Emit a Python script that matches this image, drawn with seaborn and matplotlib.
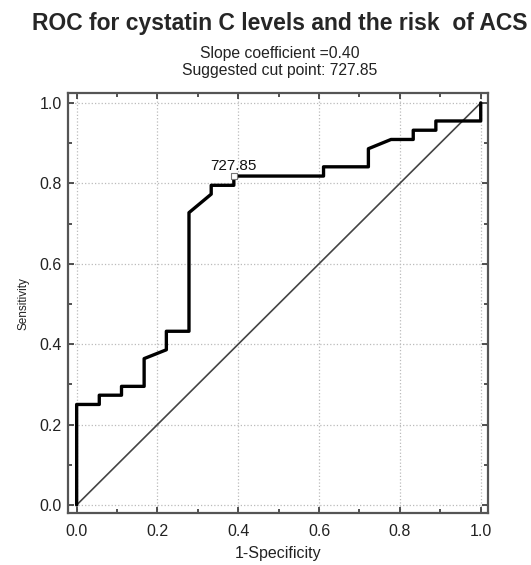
import matplotlib
matplotlib.use('Agg')
import matplotlib.pyplot as plt
import pandas as pd
import seaborn as sns
from matplotlib.ticker import MultipleLocator

# ROC curve points
fpr = [0.0, 0.0, 0.056, 0.056, 0.111, 0.111, 0.167, 0.167, 0.222, 0.222,
       0.278, 0.278, 0.333, 0.333, 0.389, 0.389, 0.611, 0.611, 0.722, 0.722,
       0.778, 0.833, 0.833, 0.889, 0.889, 1.0, 1.0]
tpr = [0.0, 0.25, 0.25, 0.273, 0.273, 0.295, 0.295, 0.364, 0.386, 0.432,
       0.432, 0.727, 0.773, 0.795, 0.795, 0.818, 0.818, 0.841, 0.841, 0.886,
       0.909, 0.909, 0.932, 0.932, 0.955, 0.955, 1.0]
ref_line = [0.0, 1.0]
cut_fpr = 0.389
cut_tpr = 0.818
cut_label = '727.85'
tick_vals = [0.0, 0.2, 0.4, 0.6, 0.8, 1.0]

df = pd.DataFrame({'fpr': fpr, 'tpr': tpr})

sns.set_style('ticks')
plt.rcParams['font.family'] = ['Liberation Sans', 'DejaVu Sans']

fig = plt.figure(figsize=(5.31, 5.65), dpi=100)
ax = fig.add_axes([0.128, 0.092, 0.791, 0.743])

# chance line
sns.lineplot(x=ref_line, y=ref_line, color='#444444', linewidth=1.2, ax=ax)
# ROC curve
sns.lineplot(data=df, x='fpr', y='tpr', sort=False, estimator=None,
             color='black', linewidth=2.4, ax=ax)
# cut point
sns.scatterplot(x=[cut_fpr], y=[cut_tpr], marker='s', s=14,
                facecolor='white', edgecolor='#777777', linewidth=0.8,
                zorder=5, ax=ax)
ax.text(cut_fpr - 0.002, cut_tpr + 0.008, cut_label, ha='center',
        va='bottom', fontsize=11, color='#111111')

ax.set_xlim(-0.0215, 1.018)
ax.set_ylim(-0.02, 1.024)
ax.set_xticks(tick_vals)
ax.set_yticks(tick_vals)
ax.set_xticklabels([f'{v:.1f}' for v in tick_vals])
ax.set_yticklabels([f'{v:.1f}' for v in tick_vals])
ax.xaxis.set_minor_locator(MultipleLocator(0.1))
ax.yaxis.set_minor_locator(MultipleLocator(0.1))
ax.tick_params(which='both', direction='in', top=True, right=True,
               color='#333333', width=1.2)
ax.tick_params(which='major', length=4, labelsize=11.5,
               labelcolor='#222222')
ax.tick_params(axis='x', which='major', pad=8)
ax.tick_params(axis='y', which='major', pad=4.5)
ax.tick_params(which='minor', length=3)
ax.grid(True, which='major', linestyle=':', color='#bbbbbb', linewidth=0.9)
for sp in ax.spines.values():
    sp.set_visible(True)
    sp.set_color('#555555')
    sp.set_linewidth(1.6)

ax.set_xlabel('1-Specificity', fontsize=11.5, color='#222222', labelpad=5)
ax.set_ylabel('Sensitivity', fontsize=8.5, color='#222222', labelpad=7)

fig.text(0.527, 0.958, 'ROC for cystatin C levels and the risk  of ACS',
         ha='center', va='center', fontsize=16.5, fontweight='bold')
fig.text(0.527, 0.906, 'Slope coefficient =0.40', ha='center', va='center',
         fontsize=11.3, color='#222222')
fig.text(0.527, 0.876, 'Suggested cut point: 727.85', ha='center',
         va='center', fontsize=11.3, color='#222222')

fig.savefig('out.png', dpi=100)
